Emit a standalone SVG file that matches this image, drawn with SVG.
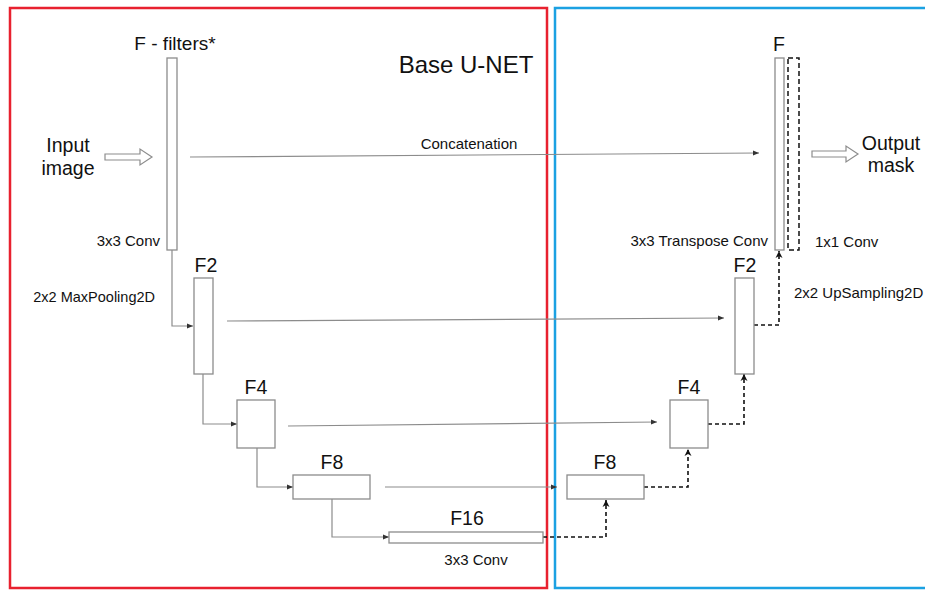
<svg xmlns="http://www.w3.org/2000/svg" width="925" height="592" viewBox="0 0 925 592">
<defs>
<style>
text{font-family:"Liberation Sans",Arial,sans-serif;fill:#111}
.box{fill:#fff;stroke:#8c8c8c;stroke-width:1.3}
.solid{fill:none;stroke:#8c8c8c;stroke-width:1.2}
.dash{fill:none;stroke:#111;stroke-width:1.6;stroke-dasharray:4,3}
.lbl{font-size:19.5px;text-anchor:middle}
.sm{font-size:15px}
.hollow{fill:#fff;stroke:#8c8c8c;stroke-width:1.2}
</style>
<marker id="ah" markerWidth="8" markerHeight="8" refX="7" refY="4" orient="auto" markerUnits="userSpaceOnUse">
<path d="M1,1.5 L7,4 L1,6.5 Z" fill="#333"/>
</marker>
<marker id="ahd" markerWidth="10" markerHeight="10" refX="8" refY="5" orient="auto" markerUnits="userSpaceOnUse">
<path d="M1,1.5 L8,5 L1,8.5 L3,5 Z" fill="#111"/>
</marker>
</defs>
<rect width="925" height="592" fill="#fff"/>
<g id="frames">
<rect x="10" y="8" width="537" height="580" fill="none" stroke="#e8212f" stroke-width="2.5"/>
<rect x="555" y="8" width="380" height="580" fill="none" stroke="#1ba1e2" stroke-width="2.5"/>
</g>
<g id="connectors">
<path class="solid" d="M190,157 L759,153" marker-end="url(#ah)"/>
<path class="solid" d="M172,250 V326 H193" marker-end="url(#ah)"/>
<path class="solid" d="M227,321 L724,318" marker-end="url(#ah)"/>
<path class="solid" d="M203,374 V424 H237" marker-end="url(#ah)"/>
<path class="solid" d="M288,426 L657,422" marker-end="url(#ah)"/>
<path class="solid" d="M257,448 V487 H293" marker-end="url(#ah)"/>
<path class="solid" d="M385,487 L557,487" marker-end="url(#ah)"/>
<path class="solid" d="M332,499 V537 H389" marker-end="url(#ah)"/>
<path class="dash" d="M543,537 H606 V500" marker-end="url(#ahd)"/>
<path class="dash" d="M644,487 H688 V449" marker-end="url(#ahd)"/>
<path class="dash" d="M708,424 H744 V374" marker-end="url(#ahd)"/>
<path class="dash" d="M754,325 H779 V251" marker-end="url(#ahd)"/>
</g>
<g id="input">
<text class="lbl" x="68" y="152">Input</text>
<text class="lbl" x="68" y="175">image</text>
<path class="hollow" d="M105,154 H140 V149 L152,157 L140,165 V160 H105 Z"/>
</g>
<g id="title"><text x="466" y="73" font-size="24" text-anchor="middle">Base U-NET</text></g>
<g id="concat-label"><text x="469" y="149" class="sm" text-anchor="middle">Concatenation</text></g>
<g id="enc-f">
<rect class="box" x="167" y="58" width="10" height="192"/>
<text x="175" y="50" font-size="19" text-anchor="middle">F - filters*</text>
<text x="160" y="246" class="sm" text-anchor="end">3x3 Conv</text>
</g>
<g id="maxpool-label"><text x="155" y="302" font-size="14.5" text-anchor="end">2x2 MaxPooling2D</text></g>
<g id="enc-f2">
<rect class="box" x="194" y="278" width="19" height="96"/>
<text class="lbl" x="206" y="272">F2</text>
</g>
<g id="enc-f4">
<rect class="box" x="237" y="400" width="38" height="48"/>
<text class="lbl" x="256" y="394">F4</text>
</g>
<g id="enc-f8">
<rect class="box" x="293" y="475" width="77" height="24"/>
<text class="lbl" x="332" y="469">F8</text>
</g>
<g id="bottleneck-f16">
<rect class="box" x="389" y="532" width="154" height="11"/>
<text class="lbl" x="467" y="525">F16</text>
<text x="476" y="565" class="sm" text-anchor="middle">3x3 Conv</text>
</g>
<g id="dec-f8">
<rect class="box" x="567" y="475" width="77" height="24"/>
<text class="lbl" x="605" y="469">F8</text>
</g>
<g id="dec-f4">
<rect class="box" x="670" y="400" width="38" height="48"/>
<text class="lbl" x="689" y="394">F4</text>
</g>
<g id="dec-f2">
<rect class="box" x="735" y="278" width="19" height="96"/>
<text class="lbl" x="745" y="272">F2</text>
</g>
<g id="upsampling-label"><text x="794" y="298" class="sm">2x2 UpSampling2D</text></g>
<g id="dec-f">
<rect class="box" x="775" y="58" width="9" height="192"/>
<rect x="788" y="58" width="11" height="192" fill="none" stroke="#111" stroke-width="1.5" stroke-dasharray="5,3"/>
<text class="lbl" x="779" y="51">F</text>
<text x="768" y="246" class="sm" text-anchor="end">3x3 Transpose Conv</text>
<text x="815" y="247" class="sm">1x1 Conv</text>
</g>
<g id="output">
<path class="hollow" d="M812,151 H846 V146 L858,154 L846,162 V157 H812 Z"/>
<text class="lbl" x="891" y="150">Output</text>
<text class="lbl" x="891" y="172">mask</text>
</g>
</svg>
